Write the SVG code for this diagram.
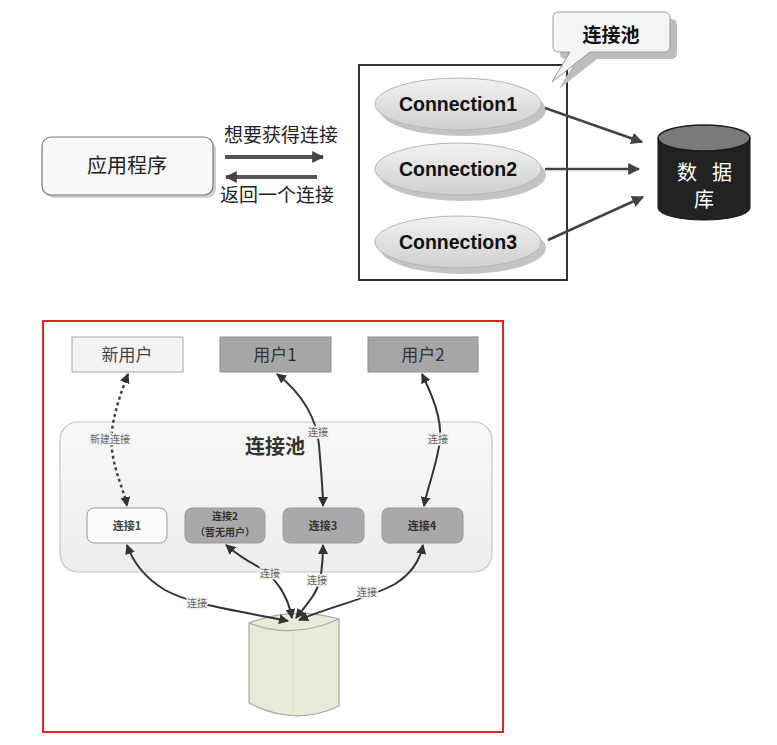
<svg xmlns="http://www.w3.org/2000/svg" width="777" height="745" viewBox="0 0 777 745">
<style>
.cjk{font-family:"Noto Sans CJK SC","Liberation Sans",sans-serif;}
.conn{font-family:"Liberation Sans",Arial,sans-serif;font-weight:bold;font-size:19.5px;fill:#111;}
.lbl{font-family:"Noto Sans CJK SC",sans-serif;font-size:10px;fill:#666;paint-order:stroke;stroke:#f1f1f1;stroke-width:3px;stroke-linejoin:round;}
.carrow{fill:none;stroke:#333;stroke-width:2;marker-start:url(#ha);marker-end:url(#ha);}
.ellipse{fill:url(#eg);stroke:#b5b5b5;stroke-width:1;}
.eshadow{fill:#c4c4c4;}
.cbox{stroke:#999;stroke-width:1;}
</style>
<defs>
<linearGradient id="eg" x1="0" y1="0" x2="0" y2="1">
<stop offset="0" stop-color="#f2f2f2"/>
<stop offset="1" stop-color="#cfcfcf"/>
</linearGradient>
<linearGradient id="pg" x1="0" y1="0" x2="0" y2="1">
<stop offset="0" stop-color="#f8f8f8"/>
<stop offset="1" stop-color="#ededed"/>
</linearGradient>
<marker id="ah" viewBox="0 0 10 10" refX="9" refY="5" markerWidth="12" markerHeight="12" markerUnits="userSpaceOnUse" orient="auto">
<path d="M0,0 L10,5 L0,10 z" fill="#444"/>
</marker>
<marker id="ha" viewBox="0 0 10 10" refX="9" refY="5" markerWidth="10" markerHeight="10" markerUnits="userSpaceOnUse" orient="auto-start-reverse">
<path d="M0,0 L10,5 L0,10 z" fill="#333"/>
</marker>
</defs>
<rect width="777" height="745" fill="#ffffff"/>

<!-- TOP DIAGRAM -->
<g id="app">
<rect x="45" y="140" width="171" height="58" rx="9" fill="#cfcfcf"/>
<rect x="42" y="137" width="171" height="58" rx="9" fill="#f8f8f8" stroke="#7a7a7a" stroke-width="1.2"/>
<text class="cjk" x="127" y="173" font-size="20" fill="#222" text-anchor="middle">应用程序</text>
</g>

<g id="pool">
<rect x="359" y="65" width="208" height="215" fill="none" stroke="#333" stroke-width="2"/>
</g>

<g id="callout">
<path d="M560,19 H671 Q677,19 677,25 V53 Q677,59 671,59 H597 L559,89 L577,59 H566 Q560,59 560,53 V25 Q560,19 566,19 Z" fill="#bdbdbd"/>
<path d="M559,12 H664 Q670,12 670,18 V46 Q670,52 664,52 H590 L552,82 L570,52 H559 Q553,52 553,46 V18 Q553,12 559,12 Z" fill="#f4f4f4" stroke="#9a9a9a" stroke-width="1"/>
<text class="cjk" x="611" y="42" font-size="19" font-weight="bold" fill="#111" text-anchor="middle">连接池</text>
</g>

<g id="connection1">
<ellipse class="eshadow" cx="463" cy="110" rx="83" ry="26"/>
<ellipse class="ellipse" cx="458" cy="104" rx="83" ry="26"/>
<text class="conn" x="458" y="111" text-anchor="middle">Connection1</text>
</g>
<g id="connection2">
<ellipse class="eshadow" cx="463" cy="175" rx="83" ry="26"/>
<ellipse class="ellipse" cx="458" cy="169" rx="83" ry="26"/>
<text class="conn" x="458" y="176" text-anchor="middle">Connection2</text>
</g>
<g id="connection3">
<ellipse class="eshadow" cx="463" cy="248" rx="83" ry="26"/>
<ellipse class="ellipse" cx="458" cy="242" rx="83" ry="26"/>
<text class="conn" x="458" y="249" text-anchor="middle">Connection3</text>
</g>

<g id="database">
<path d="M658,138 V208 A46,12 0 0 0 750,208 V138 Z" fill="#222" stroke="#111" stroke-width="1"/>
<ellipse cx="704" cy="138" rx="46" ry="13" fill="#7a7a7a" stroke="#1a1a1a" stroke-width="1.5"/>
<text class="cjk" x="687" y="180" font-size="20" fill="#fff" text-anchor="middle">数</text>
<text class="cjk" x="722" y="180" font-size="20" fill="#fff" text-anchor="middle">据</text>
<text class="cjk" x="704" y="207" font-size="20" fill="#fff" text-anchor="middle">库</text>
</g>

<g id="top-connectors">
<line x1="225" y1="157" x2="323" y2="157" stroke="#555" stroke-width="4" marker-end="url(#ah)"/>
<line x1="317" y1="177" x2="226" y2="177" stroke="#555" stroke-width="4" marker-end="url(#ah)"/>
<text class="cjk" x="281" y="142" font-size="19" fill="#222" text-anchor="middle">想要获得连接</text>
<text class="cjk" x="277" y="202" font-size="19" fill="#222" text-anchor="middle">返回一个连接</text>
<line x1="545" y1="108" x2="642" y2="142" stroke="#444" stroke-width="2.5" marker-end="url(#ah)"/>
<line x1="545" y1="169" x2="639" y2="169" stroke="#444" stroke-width="2.5" marker-end="url(#ah)"/>
<line x1="548" y1="240" x2="643" y2="197" stroke="#444" stroke-width="2.5" marker-end="url(#ah)"/>
</g>

<!-- BOTTOM DIAGRAM -->
<rect x="43" y="321" width="460" height="411" fill="none" stroke="#e02424" stroke-width="2"/>

<g id="pool2">
<rect x="60" y="422" width="432" height="150" rx="18" fill="url(#pg)" stroke="#c6c6c6" stroke-width="1.2"/>
<text class="cjk" x="275" y="454" font-size="20" font-weight="bold" fill="#333" text-anchor="middle">连接池</text>
</g>

<g id="newuser">
<rect x="72" y="337" width="111" height="35" fill="#f3f3f3" stroke="#a8a8a8" stroke-width="1"/>
<text class="cjk" x="127" y="361" font-size="17" fill="#444" text-anchor="middle">新用户</text>
</g>
<g id="user1">
<rect x="220" y="337" width="111" height="35" fill="#a6a6a6" stroke="#8e8e8e" stroke-width="1"/>
<text class="cjk" x="275" y="361" font-size="17" fill="#333" text-anchor="middle">用户1</text>
</g>
<g id="user2">
<rect x="368" y="337" width="110" height="35" fill="#a6a6a6" stroke="#8e8e8e" stroke-width="1"/>
<text class="cjk" x="423" y="361" font-size="17" fill="#333" text-anchor="middle">用户2</text>
</g>

<g id="conn1">
<rect class="cbox" x="87" y="508" width="80" height="35" rx="7" fill="#fbfbfb"/>
<text class="cjk" x="127" y="530" font-size="11" font-weight="bold" fill="#444" text-anchor="middle">连接1</text>
</g>
<g id="conn2">
<rect class="cbox" x="185" y="508" width="80" height="35" rx="7" fill="#a9a9a9"/>
<text class="cjk" x="225" y="520" font-size="10" font-weight="bold" fill="#333" text-anchor="middle">连接2</text>
<text class="cjk" x="225" y="536" font-size="10" font-weight="bold" fill="#333" text-anchor="middle">（暂无用户）</text>
</g>
<g id="conn3">
<rect class="cbox" x="283" y="508" width="81" height="35" rx="7" fill="#a9a9a9"/>
<text class="cjk" x="323" y="530" font-size="11" font-weight="bold" fill="#333" text-anchor="middle">连接3</text>
</g>
<g id="conn4">
<rect class="cbox" x="382" y="508" width="81" height="35" rx="7" fill="#a9a9a9"/>
<text class="cjk" x="422" y="530" font-size="11" font-weight="bold" fill="#333" text-anchor="middle">连接4</text>
</g>

<g id="db2">
<path d="M249,623 Q293,606 339,619 V706 Q295,727 249,703 Z" fill="#e7ebd7" stroke="#a9a9a9" stroke-width="1.2"/>
<path d="M249,623 Q293,640 339,619" fill="none" stroke="#a9a9a9" stroke-width="1.2"/>
<path d="M293,632 V716" fill="none" stroke="#dde2cb" stroke-width="1"/>
</g>

<g id="bottom-connectors">
<path d="M128,374 C118,400 109,428 112,450 C115,474 124,490 127,506" fill="none" stroke="#444" stroke-width="2.5" stroke-dasharray="3,3" marker-start="url(#ha)" marker-end="url(#ha)"/>
<path class="carrow" d="M277,374 C303,394 317,420 319,445 C321,470 323,490 323,506"/>
<path class="carrow" d="M422,374 C432,395 442,418 440,440 C437,465 428,485 424,506"/>
<path class="carrow" d="M288,621 C240,611 192,605 165,590 C145,578 133,562 127,545"/>
<path class="carrow" d="M292,618 C288,596 276,577 257,566 C242,558 233,551 226,545"/>
<path class="carrow" d="M296,618 C306,605 318,594 321,575 C323,561 323,553 323,545"/>
<path class="carrow" d="M299,620 C332,606 370,598 395,584 C411,574 420,560 423,545"/>
<text class="lbl" x="110" y="443" text-anchor="middle">新建连接</text>
<text class="lbl" x="318" y="436" text-anchor="middle">连接</text>
<text class="lbl" x="438" y="443" text-anchor="middle">连接</text>
<text class="lbl" x="197" y="607" text-anchor="middle">连接</text>
<text class="lbl" x="270" y="577" text-anchor="middle">连接</text>
<text class="lbl" x="317" y="584" text-anchor="middle">连接</text>
<text class="lbl" x="367" y="596" text-anchor="middle">连接</text>
</g>
</svg>
